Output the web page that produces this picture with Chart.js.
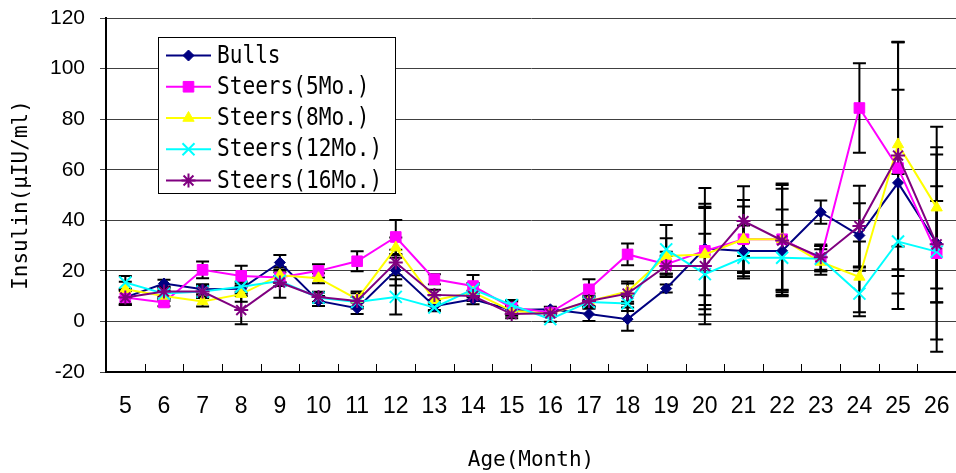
<!DOCTYPE html>
<html>
<head>
<meta charset="utf-8">
<title>Insulin by age</title>
<script src="https://cdn.jsdelivr.net/npm/chart.js@4.4.1/dist/chart.umd.min.js"></script>
<style>
  html, body { margin: 0; padding: 0; background: #fff; }
  #wrap { width: 956px; height: 473px; position: relative; }
</style>
</head>
<body>
<div id="wrap"><canvas id="chart" width="956" height="473"></canvas></div>
<script>
// Age in months (x categories)
const months = ['5','6','7','8','9','10','11','12','13','14','15','16','17','18','19','20','21','22','23','24','25','26'];

// Mean insulin (μIU/ml) per group
const bulls    = [9.5, 15.0, 12.7, 12.9, 23.3, 8.1, 5.2, 20.2, 6.0, 8.8, 4.5, 4.8, 2.9, 0.9, 13.0, 28.8, 27.9, 27.9, 43.2, 34.0, 54.8, 30.9];
const steers5  = [9.5, 7.5, 20.4, 18.0, 17.4, 20.0, 23.8, 33.4, 16.7, 14.0, 5.5, 3.5, 12.7, 26.5, 22.6, 27.9, 32.5, 32.5, 24.8, 84.4, 60.7, 27.0];
const steers8  = [12.7, 10.1, 7.9, 10.8, 18.3, 17.1, 8.8, 29.2, 8.4, 11.5, 4.2, 3.0, 8.0, 11.8, 25.9, 26.5, 32.5, 32.5, 23.5, 17.6, 70.0, 45.0];
const steers12 = [15.4, 11.0, 11.8, 13.7, 16.0, 9.4, 7.7, 9.7, 5.5, 12.7, 6.5, 0.9, 7.7, 7.1, 28.5, 18.7, 25.2, 25.2, 24.8, 11.0, 31.6, 27.6];
const steers16 = [9.5, 11.8, 11.8, 4.5, 15.4, 9.7, 8.1, 23.3, 10.5, 10.1, 2.9, 3.2, 8.1, 11.0, 21.9, 21.9, 39.7, 32.0, 25.4, 37.7, 65.6, 30.5];

// Error bar half-lengths (±) per group
const bullsErr    = [2.5, 1.5, 2.0, 2.0, 3.0, 2.0, 2.3, 6.0, 1.5, 2.0, 1.5, 1.0, 2.7, 4.6, 1.6, 24.0, 10.0, 16.4, 4.6, 12.7, 36.8, 38.0];
const steers5Err  = [3.0, 1.5, 3.3, 4.0, 2.0, 2.6, 4.0, 6.7, 2.0, 4.4, 2.4, 1.0, 4.0, 4.3, 5.0, 17.5, 15.5, 22.0, 5.0, 17.7, 49.7, 39.0];
const steers8Err  = [3.0, 2.0, 2.0, 3.0, 3.0, 2.0, 3.0, 4.0, 2.0, 3.0, 2.0, 1.0, 3.0, 4.0, 7.0, 20.0, 13.0, 20.0, 5.0, 14.0, 40.4, 32.0];
const steers12Err = [2.6, 2.0, 2.0, 2.0, 2.0, 2.0, 2.0, 7.0, 1.5, 2.5, 2.0, 1.0, 2.0, 3.0, 9.6, 16.0, 6.0, 13.0, 5.0, 9.0, 26.7, 20.0];
const steers16Err = [3.0, 2.0, 2.5, 5.6, 6.0, 2.0, 3.0, 5.0, 2.0, 2.0, 1.6, 1.0, 2.0, 4.0, 4.0, 23.0, 13.8, 22.0, 5.0, 16.0, 45.0, 23.0];

// Y axis range and step
const yMin = -20, yMax = 120, yStep = 20;

const seriesLabels = ['Bulls', 'Steers(5Mo.)', 'Steers(8Mo.)', 'Steers(12Mo.)', 'Steers(16Mo.)'];
const seriesValues = [bulls, steers5, steers8, steers12, steers16];
const seriesErrors = [bullsErr, steers5Err, steers8Err, steers12Err, steers16Err];
const seriesColors = ['#000080', '#FF00FF', '#FFFF00', '#00FFFF', '#800080'];
const seriesMarks  = [
  { style: 'rectRot',  radius: 5.5, bw: 1 },
  { style: 'rect',     radius: 7.5, bw: 1 },
  { style: 'triangle', radius: 6.5, bw: 1 },
  { style: 'crossRot', radius: 8.5, bw: 2 },
  { style: 'star',     radius: 7,   bw: 2 }
];

const datasets = seriesLabels.map((label, i) => ({
  label,
  data: seriesValues[i],
  errors: seriesErrors[i],
  borderColor: seriesColors[i],
  backgroundColor: seriesColors[i],
  borderWidth: 2,
  tension: 0,
  pointStyle: seriesMarks[i].style,
  pointRadius: seriesMarks[i].radius,
  pointHoverRadius: seriesMarks[i].radius,
  pointBorderWidth: seriesMarks[i].bw,
  pointBackgroundColor: seriesColors[i],
  pointBorderColor: seriesColors[i],
  order: seriesLabels.length - i
}));

// Vertical ± error bars with caps, drawn under the series lines
const errorBars = {
  id: 'errorBars',
  beforeDatasetsDraw(chart) {
    const { ctx, scales: { x, y } } = chart;
    ctx.save();
    ctx.strokeStyle = '#000';
    ctx.lineWidth = 2;
    chart.data.datasets.forEach(ds => {
      ds.data.forEach((v, j) => {
        const e = ds.errors[j];
        const px = x.getPixelForValue(j);
        const top = y.getPixelForValue(v + e);
        const bot = y.getPixelForValue(v - e);
        ctx.beginPath();
        ctx.moveTo(px, top); ctx.lineTo(px, bot);
        ctx.moveTo(px - 6.5, top); ctx.lineTo(px + 6.5, top);
        ctx.moveTo(px - 6.5, bot); ctx.lineTo(px + 6.5, bot);
        ctx.stroke();
      });
    });
    ctx.restore();
  }
};

// Short inward tick marks between categories on the x axis
const xInnerTicks = {
  id: 'xInnerTicks',
  afterDatasetsDraw(chart) {
    const { ctx, scales: { x }, chartArea } = chart;
    const step = x.getPixelForValue(1) - x.getPixelForValue(0);
    ctx.save();
    ctx.strokeStyle = '#000';
    ctx.lineWidth = 1;
    for (let j = 1; j < months.length; j++) {
      const bx = Math.round(x.getPixelForValue(j) - step / 2) + 0.5;
      ctx.beginPath();
      ctx.moveTo(bx, chartArea.bottom);
      ctx.lineTo(bx, chartArea.bottom - 8);
      ctx.stroke();
    }
    ctx.restore();
  }
};

// Boxed legend inside the plot, line + marker swatches
const boxLegend = {
  id: 'boxLegend',
  afterDatasetsDraw(chart) {
    const { ctx, chartArea } = chart;
    const x0 = Math.round(chartArea.left + 52), y0 = Math.round(chartArea.top + 19);
    const w = 237, h = 156, rowH = 31.25;
    ctx.save();
    ctx.fillStyle = '#fff';
    ctx.fillRect(x0, y0, w, h);
    ctx.strokeStyle = '#000';
    ctx.lineWidth = 1;
    ctx.strokeRect(x0 + 0.5, y0 + 0.5, w, h);
    chart.data.datasets.forEach((ds, i) => {
      const cy = y0 + 18.5 + i * rowH;
      ctx.strokeStyle = ds.borderColor;
      ctx.lineWidth = 2;
      ctx.beginPath();
      ctx.moveTo(x0 + 8, cy); ctx.lineTo(x0 + 53, cy);
      ctx.stroke();
      ctx.fillStyle = ds.pointBackgroundColor;
      ctx.strokeStyle = ds.pointBorderColor;
      ctx.lineWidth = ds.pointBorderWidth;
      Chart.helpers.drawPoint(ctx, {
        pointStyle: ds.pointStyle, rotation: 0,
        radius: ds.pointRadius, borderWidth: ds.pointBorderWidth
      }, x0 + 30.5, cy);
      ctx.save();
      ctx.translate(x0 + 59, cy);
      ctx.scale(0.88, 1);
      ctx.font = "24px 'DejaVu Sans Mono'";
      ctx.textBaseline = 'middle';
      ctx.fillStyle = '#000';
      ctx.fillText(ds.label, 0, 1);
      ctx.restore();
    });
    ctx.restore();
  }
};

// Fixed axis box sizes, without extra label overhang padding
function zeroPadding(scale) {
  scale.paddingLeft = 0;
  scale.paddingRight = 0;
  scale.paddingTop = 0;
  scale.paddingBottom = 0;
}

new Chart(document.getElementById('chart'), {
  type: 'line',
  data: { labels: months, datasets },
  options: {
    responsive: false,
    animation: false,
    devicePixelRatio: 1,
    layout: { autoPadding: false, padding: { top: 18, left: 0, right: 0, bottom: 0 } },
    plugins: { legend: { display: false }, tooltip: { enabled: false } },
    scales: {
      x: {
        type: 'category',
        offset: true,
        afterFit(scale) {
          scale.height = 101;
          zeroPadding(scale);
        },
        grid: { display: true, drawOnChartArea: false, drawTicks: false },
        border: { display: true, color: '#000', width: 2 },
        ticks: {
          color: '#000', padding: 21, maxRotation: 0, autoSkip: false,
          font: { family: "'Liberation Sans', Arial, sans-serif", size: 23 }
        },
        title: {
          display: true, text: 'Age(Month)', color: '#000',
          font: { family: "'DejaVu Sans Mono', monospace", size: 21 },
          padding: { top: 4, bottom: 0 }
        }
      },
      y: {
        min: yMin, max: yMax,
        afterFit(scale) {
          scale.width = 106;
          zeroPadding(scale);
        },
        grid: { color: '#404040', lineWidth: 1, tickLength: 6, drawTicks: true },
        border: { display: true, color: '#000', width: 2 },
        ticks: {
          stepSize: yStep, color: '#000', padding: 15,
          font: { family: "'Liberation Sans', Arial, sans-serif", size: 21 }
        },
        title: {
          display: true, text: 'Insulin(μIU/ml)', color: '#000',
          font: { family: "'DejaVu Sans Mono', monospace", size: 21 },
          padding: { top: 9, bottom: 16 }
        }
      }
    }
  },
  plugins: [errorBars, xInnerTicks, boxLegend]
});
</script>
</body>
</html>
